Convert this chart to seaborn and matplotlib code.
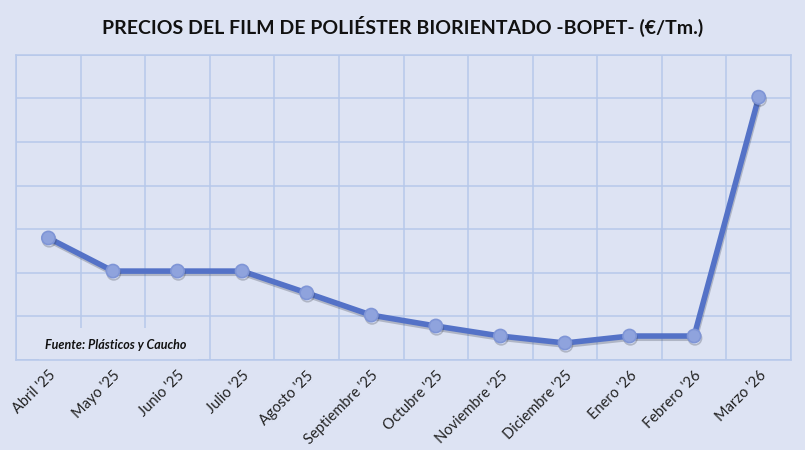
import pandas as pd
import numpy as np
import seaborn as sns
import matplotlib.pyplot as plt
import matplotlib.patheffects as pe
from matplotlib.patches import Rectangle

# months and relative price levels (no y labels in the original chart)
meses = ["Abril '25", "Mayo '25", "Junio '25", "Julio '25", "Agosto '25", "Septiembre '25",
         "Octubre '25", "Noviembre '25", "Diciembre '25", "Enero '26", "Febrero '26", "Marzo '26"]
precios = [2.80, 2.04, 2.04, 2.04, 1.54, 1.03, 0.78, 0.55, 0.39, 0.55, 0.55, 6.03]

df = pd.DataFrame({'Mes': meses, 'Precio': precios})

bg = '#DDE3F3'
grid_col = '#B7C8EA'
line_col = '#5472C7'

sns.set_theme(style='white')
plt.rcParams['font.family'] = ['Lato', 'DejaVu Sans']

fig = plt.figure(figsize=(8.05, 4.5), dpi=100, facecolor=bg)
ax = fig.add_axes([0.02, 0.2, 0.9626, 0.678])
ax.set_facecolor(bg)

xpos = np.arange(len(meses))
df['x'] = xpos
sns.lineplot(data=df, x='x', y='Precio', ax=ax, color=line_col, linewidth=4.0,
             marker='o', markersize=9.5, markerfacecolor='#8FA3DD', markeredgecolor='#7F95D6',
             markeredgewidth=1.2, zorder=5,
             path_effects=[pe.SimpleLineShadow(offset=(0.6, -1.6), shadow_color='#3a4050', alpha=0.28),
                           pe.Normal()])

ax.set_xlim(-0.5, len(meses) - 0.5)
ax.set_ylim(0, 7)
ax.set_yticks(np.arange(0, 8))
ax.set_yticklabels([])
ax.set_xticks(xpos)
ax.set_xticklabels(meses, rotation=45, ha='right', rotation_mode='anchor', fontsize=10.5, color='#222222')
ax.set_xticks(np.arange(-0.5, len(meses)), minor=True)
ax.tick_params(axis='both', which='both', length=0)
ax.tick_params(axis='x', pad=6)
ax.grid(True, axis='y', which='major', color=grid_col, linewidth=1.1)
ax.grid(True, axis='x', which='minor', color=grid_col, linewidth=1.1)
ax.grid(False, axis='x', which='major')
ax.set_axisbelow(True)
for s in ax.spines.values():
    s.set_color(grid_col)
    s.set_linewidth(1.1)
ax.set_xlabel('')
ax.set_ylabel('')

# source box covering the grid
ax.add_patch(Rectangle((0.03, 0.0), 0.205, 0.105, transform=ax.transAxes,
                       facecolor=bg, edgecolor='none', zorder=2))
ax.text(0.037, 0.048, 'Fuente: Plásticos y Caucho', transform=ax.transAxes,
        fontsize=9, fontstyle='italic', fontweight='bold', color='#111111', va='center', zorder=3)

fig.suptitle('PRECIOS DEL FILM DE POLIÉSTER BIORIENTADO -BOPET- (€/Tm.)',
             x=0.5, y=0.965, fontsize=14, fontweight='bold', color='#111111')

fig.savefig('out.png', dpi=100, facecolor=bg)
